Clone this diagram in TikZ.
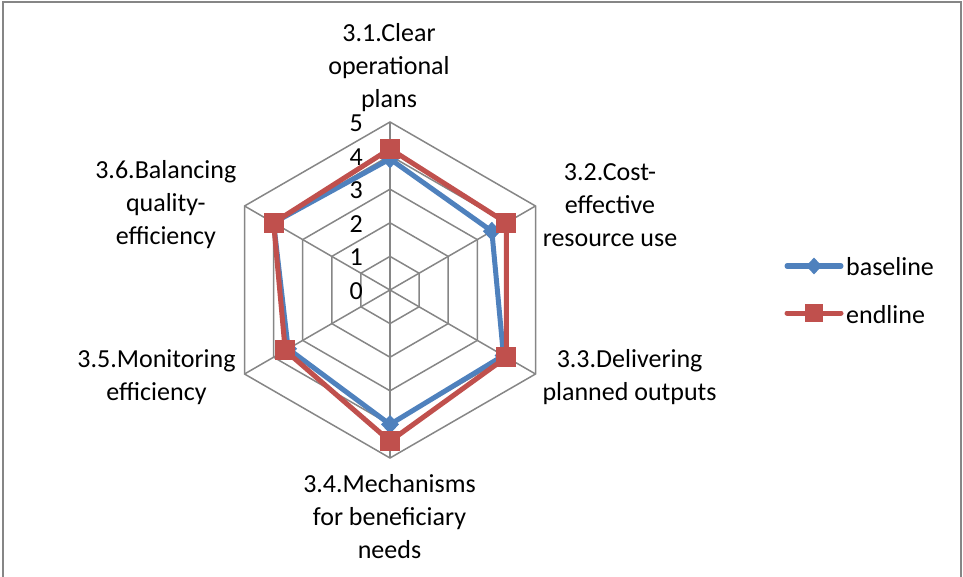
\documentclass[tikz,border=0pt]{standalone}
\usepackage{fontspec}
\setmainfont{Carlito}
\usetikzlibrary{shapes.geometric}
\definecolor{basec}{HTML}{4F81BD}
\definecolor{endc}{HTML}{C0504D}
\definecolor{gridc}{HTML}{868686}
\begin{document}
\begin{tikzpicture}[x=1pt,y=-1pt,
  lab/.style={font=\fontsize{26}{33}\selectfont, align=center, inner sep=0pt},
  ticklab/.style={font=\fontsize{26}{33}\selectfont, anchor=base east, inner sep=0pt},
  gridl/.style={draw=gridc, line width=1.5pt},
  ser/.style={line width=5pt, line join=round},
  sq/.style={rectangle, fill=endc, minimum size=20pt, inner sep=0pt},
  dia/.style={diamond, fill=basec, minimum width=18pt, minimum height=19pt, inner sep=0pt},
  lsq/.style={rectangle, fill=endc, minimum size=18pt, inner sep=0pt},
  ldia/.style={diamond, fill=basec, minimum width=16pt, minimum height=17pt, inner sep=0pt}]
\useasboundingbox (0,0) rectangle (963,577);
% frame
\coordinate (f1) at (2.5,577);
\coordinate (f2) at (2.5,2);
\coordinate (f3) at (961,2);
\coordinate (f4) at (961,577);
\draw[gridc, line width=2pt] (f1) -- (f2) -- (f3) -- (f4);
\begin{scope}[shift={(390,290)}]
  \coordinate (O) at (0,0);
  % grid hexagons
  \foreach \r in {1,...,5}
    \draw[gridl] (-90:{\r*33.6}) -- (-30:{\r*33.6}) -- (30:{\r*33.6}) -- (90:{\r*33.6}) -- (150:{\r*33.6}) -- (210:{\r*33.6}) -- cycle;
  \foreach \a/\n in {-90/1,-30/2,30/3,90/4,150/5,210/6}
    \coordinate (V\n) at (\a:168);
  \foreach \n in {1,...,6}
    \draw[gridl] (O) -- (V\n);
  % baseline data
  \path (-90:{3.9*33.6}) coordinate (b1);
  \path (-30:{3.5*33.6}) coordinate (b2);
  \path (30:{3.9*33.6}) coordinate (b3);
  \path (90:{4.0*33.6}) coordinate (b4);
  \path (150:{3.5*33.6}) coordinate (b5);
  \path (210:{4.0*33.6}) coordinate (b6);
  % endline data
  \path (-90:{4.2*33.6}) coordinate (e1);
  \path (-30:{4.0*33.6}) coordinate (e2);
  \path (30:{4.0*33.6}) coordinate (e3);
  \path (90:{4.5*33.6}) coordinate (e4);
  \path (150:{3.6*33.6}) coordinate (e5);
  \path (210:{4.0*33.6}) coordinate (e6);
  \draw[basec, ser] (b1) -- (b2) -- (b3) -- (b4) -- (b5) -- (b6) -- cycle;
  \foreach \n in {1,...,6} \node[dia] (mb\n) at (b\n) {};
  \draw[endc, ser] (e1) -- (e2) -- (e3) -- (e4) -- (e5) -- (e6) -- cycle;
  \foreach \n in {1,...,6} \node[sq] (me\n) at (e\n) {};
\end{scope}
% tick labels
\foreach \v in {0,...,5}
  \node[ticklab] (t\v) at (363,{290-\v*33.6+9.5}) {\v};
% category labels
\node[lab] (L1) at (389,68) {3.1.Clear\\operational\\plans};
\node[lab] (L2) at (610,205) {3.2.Cost-\\effective\\resource use};
\node[lab] (L3) at (629.6,377.5) {3.3.Delivering\\planned outputs};
\node[lab] (L4) at (389.5,517) {3.4.Mechanisms\\for beneficiary\\needs};
\node[lab] (L5) at (156.5,377.5) {3.5.Monitoring\\efficiency};
\node[lab] (L6) at (165.8,205) {3.6.Balancing\\quality-\\efficiency};
% legend
\coordinate (lb1) at (787,266);
\coordinate (lb2) at (841,266);
\coordinate (le1) at (787,313);
\coordinate (le2) at (841,313);
\draw[basec, line width=5pt, line cap=round] (lb1) -- (lb2);
\node[ldia] (lbm) at (814,266) {};
\draw[endc, line width=5pt, line cap=round] (le1) -- (le2);
\node[lsq] (lem) at (814,313) {};
\node[font=\fontsize{26}{33}\selectfont, anchor=base west, inner sep=0pt] (lbt) at (846,276) {baseline};
\node[font=\fontsize{26}{33}\selectfont, anchor=base west, inner sep=0pt] (let) at (846,323) {endline};
\end{tikzpicture}
\end{document}
